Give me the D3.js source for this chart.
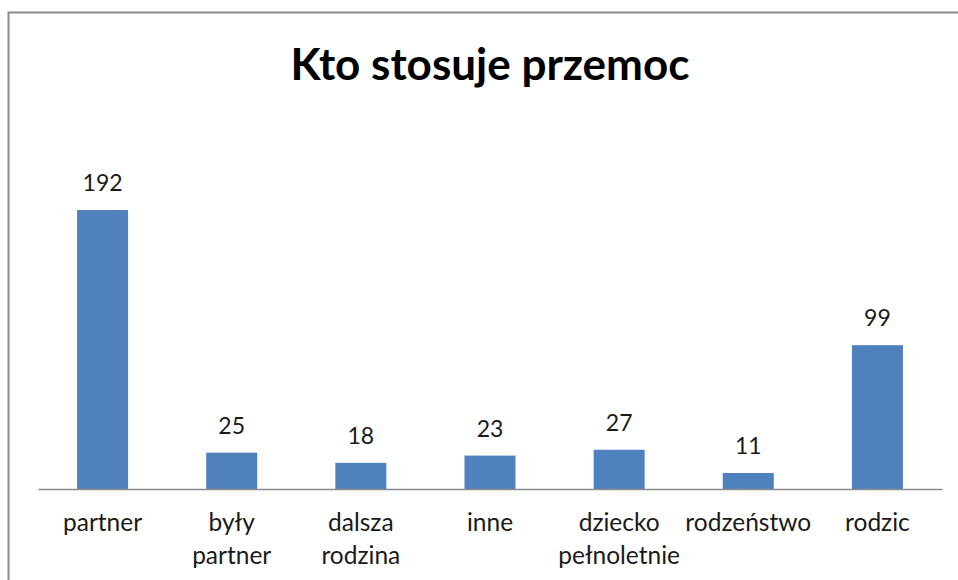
<!DOCTYPE html>
<html><head><meta charset="utf-8">
<script src="https://cdn.jsdelivr.net/npm/d3@7"></script>
<style>html,body{margin:0;padding:0;background:#fff;}svg{display:block;}</style>
</head><body>
<script>
const categories = ["partner", "były partner", "dalsza rodzina", "inne", "dziecko pełnoletnie", "rodzeństwo", "rodzic"];
const labelLines = [["partner"], ["były", "partner"], ["dalsza", "rodzina"], ["inne"], ["dziecko", "pełnoletnie"], ["rodzeństwo"], ["rodzic"]];
const values = [192, 25, 18, 23, 27, 11, 99];
const title = "Kto stosuje przemoc";

const W = 958, H = 580;
const svg = d3.select("body").append("svg").attr("width", W).attr("height", H);
const font = "Lato, 'Open Sans', sans-serif";

// chart frame
svg.append("path").attr("d", `M8.5,${H} L8.5,12.5 L${W},12.5`)
  .attr("fill", "none").attr("stroke", "#8c8c8c").attr("stroke-width", 2);

const x = d3.scaleBand().domain(categories).range([38, 942]);
const y = d3.scaleLinear().domain([0, 200]).range([489, 198.4]);
const bw = x.step() * 0.395;

svg.append("text").attr("x", 490).attr("y", 80).attr("text-anchor", "middle")
  .attr("font-family", font).attr("font-weight", "bold").attr("font-size", 44)
  .attr("fill", "#000").text(title);

svg.selectAll("rect.bar").data(values).join("rect").attr("class", "bar")
  .attr("x", (d, i) => x(categories[i]) + x.bandwidth() / 2 - bw / 2)
  .attr("width", bw)
  .attr("y", d => y(d))
  .attr("height", d => y(0) - y(d))
  .attr("fill", "#4F81BD");

svg.selectAll("text.val").data(values).join("text").attr("class", "val")
  .attr("x", (d, i) => x(categories[i]) + x.bandwidth() / 2)
  .attr("y", d => y(d) - 19)
  .attr("text-anchor", "middle").attr("font-family", font).attr("font-size", 23)
  .attr("fill", "#1a1a1a").text(d => d);

// axis
const axis = svg.append("g").attr("transform", `translate(0,${y(0)})`)
  .call(d3.axisBottom(x).tickSize(0).tickFormat(""));
axis.select(".domain").attr("stroke", "#8c8c8c").attr("stroke-width", 1.5);

const lab = svg.selectAll("text.cat").data(categories).join("text").attr("class", "cat")
  .attr("text-anchor", "middle").attr("font-family", font).attr("font-size", 24.5)
  .attr("fill", "#1a1a1a");
lab.each(function (d, i) {
  const t = d3.select(this);
  labelLines[i].forEach((ln, j) => {
    t.append("tspan").attr("x", x(d) + x.bandwidth() / 2).attr("y", 531 + j * 33).text(ln);
  });
});
</script>
</body></html>
